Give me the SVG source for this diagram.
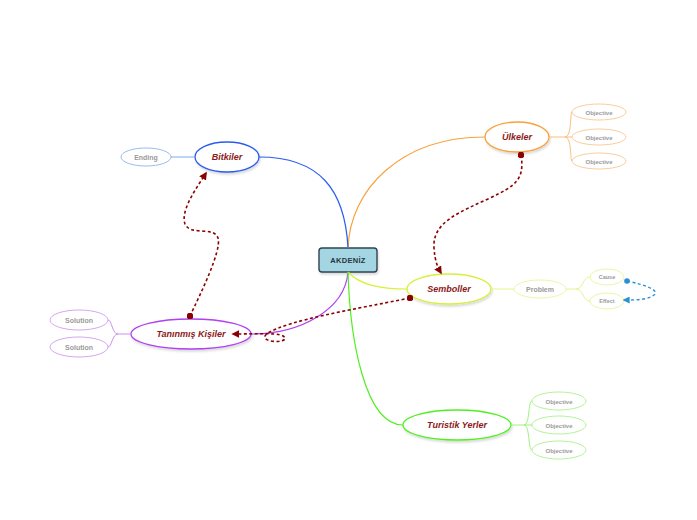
<svg xmlns="http://www.w3.org/2000/svg" width="697" height="520" viewBox="0 0 697 520">
<style>
.main{font-family:"Liberation Sans",Arial,sans-serif;font-size:9px;font-weight:bold;font-style:italic;fill:#8b1a1a;text-anchor:middle}
.sub{font-family:"Liberation Sans",Arial,sans-serif;font-weight:bold;fill:#9a9a9a;text-anchor:middle}
.node{fill:#fff;stroke-width:1.3}
.leaf{fill:#fff;stroke-width:0.8}
.rel{fill:none;stroke:#8b0000;stroke-width:1.6;stroke-dasharray:3 2.5}
</style>
<defs>
<filter id="sh" x="-20%" y="-30%" width="140%" height="170%">
<feDropShadow dx="1" dy="2" stdDeviation="1.2" flood-color="#000" flood-opacity="0.15"/>
</filter>
<marker id="ar" viewBox="0 0 10 10" refX="8" refY="5" markerWidth="5" markerHeight="5" orient="auto">
<path d="M0,0 L10,5 L0,10 z" fill="#8b0000"/>
</marker>
<marker id="dt" viewBox="0 0 10 10" refX="5" refY="5" markerWidth="4" markerHeight="4">
<circle cx="5" cy="5" r="5" fill="#8b0000"/>
</marker>
<marker id="arb" viewBox="0 0 10 10" refX="8" refY="5" markerWidth="5" markerHeight="5" orient="auto">
<path d="M0,0 L10,5 L0,10 z" fill="#2b8fd6"/>
</marker>
<marker id="dtb" viewBox="0 0 10 10" refX="5" refY="5" markerWidth="4" markerHeight="4">
<circle cx="5" cy="5" r="5" fill="#2b8fd6"/>
</marker>
</defs>
<rect width="697" height="520" fill="#fff"/>

<g id="akdeniz">
<rect x="319" y="248" width="58" height="24" rx="3" fill="#a3d5e3" stroke="#2f4450" stroke-width="1.4" filter="url(#sh)"/>
<text x="348" y="263" font-family="Liberation Sans,Arial,sans-serif" font-size="7.5" font-weight="bold" fill="#2a3540" text-anchor="middle" letter-spacing="0.3">AKDENİZ</text>
</g>

<g id="ulkeler">
<ellipse class="node" cx="517" cy="137" rx="32" ry="15" stroke="#f7a23c" filter="url(#sh)"/>
<text class="main" x="517" y="140">Ülkeler</text>
</g>
<g id="ulkeler-o1"><ellipse class="leaf" cx="599" cy="112" rx="27" ry="8" stroke="#f7c080"/><text class="sub" x="599" y="114.5" font-size="6">Objective</text></g>
<g id="ulkeler-o2"><ellipse class="leaf" cx="599" cy="137" rx="27" ry="8" stroke="#f7c080"/><text class="sub" x="599" y="139.5" font-size="6">Objective</text></g>
<g id="ulkeler-o3"><ellipse class="leaf" cx="599" cy="161" rx="27" ry="8" stroke="#f7c080"/><text class="sub" x="599" y="163.5" font-size="6">Objective</text></g>

<g id="bitkiler">
<ellipse class="node" cx="227" cy="157" rx="32" ry="15" stroke="#2a5cf0" filter="url(#sh)"/>
<text class="main" x="227" y="160">Bitkiler</text>
</g>
<g id="ending"><ellipse class="leaf" cx="146" cy="157" rx="25" ry="9" stroke="#80a8f0"/><text class="sub" x="146" y="160" font-size="7">Ending</text></g>

<g id="semboller">
<ellipse class="node" cx="449" cy="289" rx="42" ry="15" stroke="#d8f03a" filter="url(#sh)"/>
<text class="main" x="449" y="292">Semboller</text>
</g>
<g id="problem"><ellipse class="leaf" cx="540" cy="289" rx="26" ry="9" stroke="#e4f490"/><text class="sub" x="540" y="292" font-size="7">Problem</text></g>
<g id="cause"><ellipse class="leaf" cx="607" cy="277" rx="17" ry="8" stroke="#e4f490"/><text class="sub" x="607" y="279" font-size="5.5" font-weight="normal">Cause</text></g>
<g id="effect"><ellipse class="leaf" cx="607" cy="301" rx="17" ry="8" stroke="#e4f490"/><text class="sub" x="607" y="303" font-size="5.5" font-weight="normal">Effect</text></g>

<g id="taninmis">
<ellipse class="node" cx="191" cy="334" rx="60" ry="15" stroke="#b040f0" filter="url(#sh)"/>
<text class="main" x="191" y="337">Tanınmış Kişiler</text>
</g>
<g id="solution1"><ellipse class="leaf" cx="79" cy="320" rx="29" ry="10" stroke="#c890f0"/><text class="sub" x="79" y="323" font-size="7">Solution</text></g>
<g id="solution2"><ellipse class="leaf" cx="79" cy="347" rx="29" ry="10" stroke="#c890f0"/><text class="sub" x="79" y="350" font-size="7">Solution</text></g>

<g id="turistik">
<ellipse class="node" cx="457" cy="425" rx="54" ry="15" stroke="#50f020" filter="url(#sh)"/>
<text class="main" x="457" y="428">Turistik Yerler</text>
</g>
<g id="turistik-o1"><ellipse class="leaf" cx="559" cy="401" rx="27" ry="9" stroke="#a0f080"/><text class="sub" x="559" y="403.5" font-size="6">Objective</text></g>
<g id="turistik-o2"><ellipse class="leaf" cx="559" cy="425" rx="27" ry="9" stroke="#a0f080"/><text class="sub" x="559" y="427.5" font-size="6">Objective</text></g>
<g id="turistik-o3"><ellipse class="leaf" cx="559" cy="450" rx="27" ry="9" stroke="#a0f080"/><text class="sub" x="559" y="452.5" font-size="6">Objective</text></g>

<g id="connectors">
<path d="M348,248 C350,190 400,137 485,137" fill="none" stroke="#f7a23c" stroke-width="1.2"/>
<path d="M348,248 C345,190 320,157 259,157" fill="none" stroke="#2a5cf0" stroke-width="1.2"/>
<path d="M348,272 C345,310 300,334 251,334" fill="none" stroke="#b040f0" stroke-width="1.2"/>
<path d="M348,272 C360,285 380,289 407,289" fill="none" stroke="#d8f03a" stroke-width="1.2"/>
<path d="M348,272 C350,340 365,425 403,425" fill="none" stroke="#50f020" stroke-width="1.2"/>
<path d="M549,137 L565,137 C572,137 570,112 572,112 M565,137 L572,137 M565,137 C572,137 570,161 572,161" fill="none" stroke="#f7c080" stroke-width="1"/>
<path d="M195,157 L171,157" fill="none" stroke="#80a8f0" stroke-width="1"/>
<path d="M491,289 L514,289 M566,289 L576,289 C584,289 582,277 590,277 M576,289 C584,289 582,301 590,301" fill="none" stroke="#e4f490" stroke-width="1"/>
<path d="M131,334 L118,334 C112,334 112,320 108,320 M118,334 C112,334 112,347 108,347" fill="none" stroke="#c890f0" stroke-width="1"/>
<path d="M511,425 L524,425 C530,425 528,401 532,401 M524,425 L532,425 M524,425 C530,425 528,450 532,450" fill="none" stroke="#a0f080" stroke-width="1"/>
<path class="rel" d="M190,316 C200,295 222,250 218,238 C214,226 190,236 185,224 C180,210 198,186 206,173" marker-start="url(#dt)" marker-end="url(#ar)"/>
<path class="rel" d="M521,155 C525,180 515,186 490,198 C460,212 432,222 434,248 C435,262 438,268 441,273" marker-start="url(#dt)" marker-end="url(#ar)"/>
<path class="rel" d="M410,298 C350,310 290,320 268,333 C255,342 286,344 285,338 C283,332 260,334 233,334" marker-start="url(#dt)" marker-end="url(#ar)"/>
<path d="M627,281 C645,285 660,290 654,295 C648,300 635,300 624,300" fill="none" stroke="#2b8fd6" stroke-width="1.4" stroke-dasharray="3 2.5" marker-start="url(#dtb)" marker-end="url(#arb)"/>
</g>
</svg>
